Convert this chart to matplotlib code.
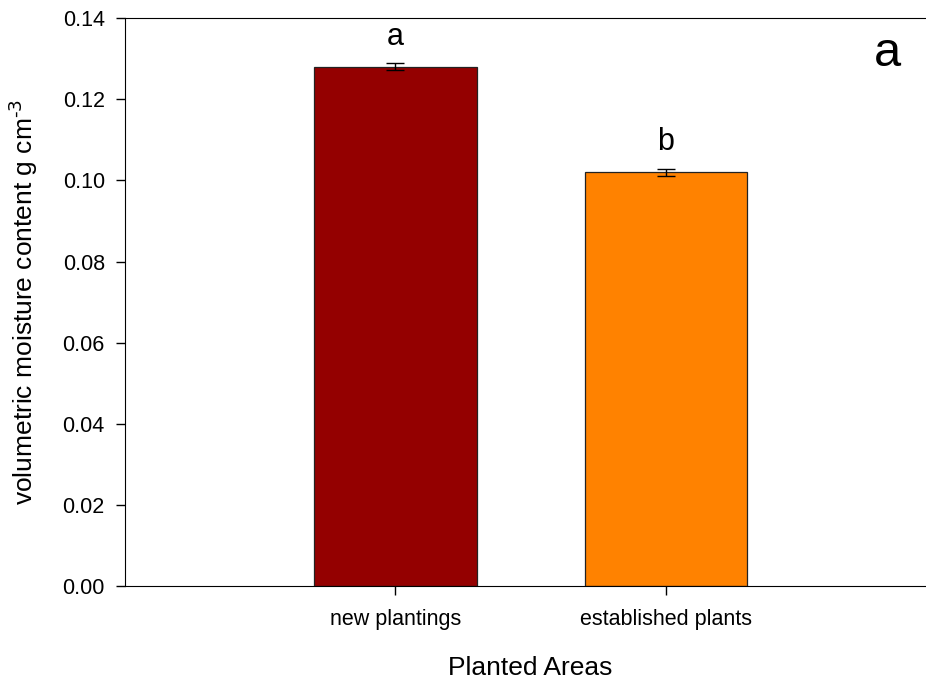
import matplotlib.pyplot as plt

plt.rcParams['font.family'] = ['Liberation Sans', 'DejaVu Sans']

areas = ['new plantings', 'established plants']
moisture = [0.128, 0.102]
moisture_se = [0.0009, 0.0009]
letters = ['a', 'b']
bar_colors = ['#940000', '#FF8200']

fig = plt.figure(figsize=(9.26, 6.8), dpi=100)
ax = fig.add_axes([0.135, 0.138, 0.876, 0.8355])

pos = list(range(len(areas)))
ax.bar(pos, moisture, width=0.6, color=bar_colors, edgecolor='#222222', linewidth=0.9, zorder=2)
ax.errorbar(pos, moisture, yerr=moisture_se, fmt='none', ecolor='black',
            elinewidth=1, capsize=6.5, capthick=1, zorder=3)

for p, v, e, l in zip(pos, moisture, moisture_se, letters):
    ax.text(p, v + e + 0.0028, l, ha='center', va='bottom', fontsize=22)

ax.set_xlim(-1, 2)
ax.set_ylim(0, 0.14)
ax.set_yticks([0, 0.02, 0.04, 0.06, 0.08, 0.10, 0.12, 0.14])
ax.set_yticklabels(['%.2f' % t for t in ax.get_yticks()])
ax.set_xticks(pos)
ax.set_xticklabels(areas)
ax.tick_params(direction='out', length=6.5, width=1, labelsize=15.5)
ax.tick_params(axis='y', pad=8)
ax.tick_params(axis='x', pad=10)

ax.set_xlabel('Planted Areas', fontsize=19, labelpad=19)
ax.set_ylabel(r'volumetric moisture content g cm$^{\text{-3}}$', fontsize=19, labelpad=16)

ax.text(0.958, 0.922, 'a', transform=fig.transFigure, ha='center', va='center', fontsize=35)

fig.savefig('out.png', dpi=100)
